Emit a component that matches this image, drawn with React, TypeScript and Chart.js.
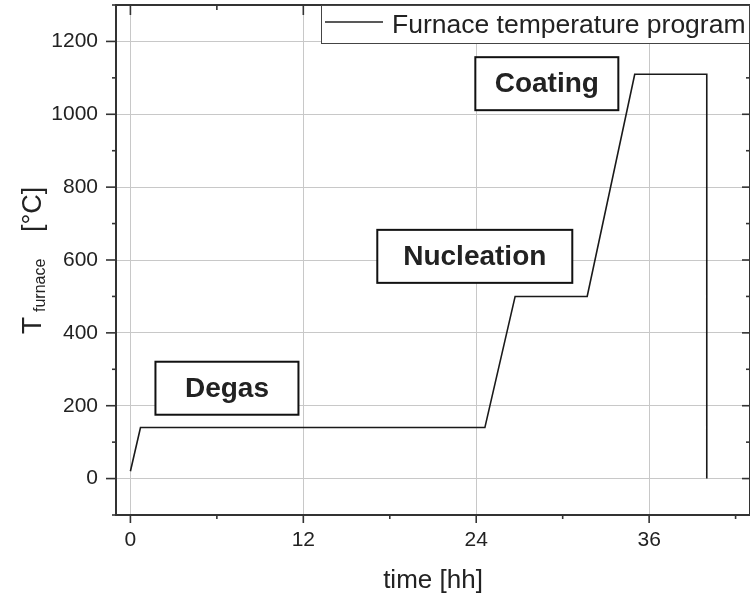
import React, { useEffect, useRef } from "react";
import { Chart, registerables } from "chart.js";

Chart.register(...registerables);

// ---- data ----
const timeHours = [0, 0.7, 24.6, 26.7, 31.7, 35.0, 40.0, 40.0];
const tempC = [20, 140, 140, 500, 500, 1110, 1110, 0];
const seriesLabel = "Furnace temperature program";

const xTickValues = [0, 6, 12, 18, 24, 30, 36, 42];
const xLabelValues = [0, 12, 24, 36];
const yTickValues = [-100, 0, 100, 200, 300, 400, 500, 600, 700, 800, 900, 1000, 1100, 1200, 1300];
const yLabelValues = [0, 200, 400, 600, 800, 1000, 1200];

const phaseLabels = ["Degas", "Nucleation", "Coating"];
const phaseTime = [6.7, 23.9, 28.9];
const phaseTemp = [248, 610, 1084];

const FONT = '"Liberation Sans", Arial, sans-serif';
const INK = "#222";

const decorPlugin = {
  id: "decor",
  afterDraw(chart: any) {
    const { ctx, chartArea: a, scales } = chart;
    const xs = scales.x;
    const ys = scales.y;
    ctx.save();
    const line = (x1: number, y1: number, x2: number, y2: number) => {
      ctx.beginPath();
      ctx.moveTo(x1, y1);
      ctx.lineTo(x2, y2);
      ctx.stroke();
    };
    // tick marks
    ctx.strokeStyle = "#333";
    ctx.lineWidth = 1.6;
    xs.ticks.forEach((t: any) => {
      const px = xs.getPixelForValue(t.value);
      const major = xLabelValues.includes(t.value);
      line(px, a.bottom, px, a.bottom + (major ? 8 : 4));
      line(px, a.top, px, a.top + (major ? 10 : 5));
    });
    ys.ticks.forEach((t: any) => {
      if (t.value < ys.min || t.value > ys.max) return;
      const py = ys.getPixelForValue(t.value);
      const major = yLabelValues.includes(t.value);
      line(a.left - (major ? 10 : 4), py, a.left, py);
      line(a.right - (major ? 8 : 4), py, a.right, py);
    });
    // frame
    ctx.lineWidth = 2;
    ctx.strokeStyle = "#333";
    ctx.strokeRect(a.left, a.top, a.right - a.left, a.bottom - a.top);

    // phase annotation boxes
    const boxW = [143, 195, 143];
    const boxH = 53;
    ctx.font = `bold 28px ${FONT}`;
    ctx.textAlign = "center";
    ctx.textBaseline = "middle";
    phaseLabels.forEach((lab, i) => {
      const cx = xs.getPixelForValue(phaseTime[i]);
      const cy = ys.getPixelForValue(phaseTemp[i]);
      ctx.fillStyle = "#fff";
      ctx.fillRect(cx - boxW[i] / 2, cy - boxH / 2, boxW[i], boxH);
      ctx.lineWidth = 2;
      ctx.strokeStyle = "#111";
      ctx.strokeRect(cx - boxW[i] / 2, cy - boxH / 2, boxW[i], boxH);
      ctx.fillStyle = INK;
      ctx.fillText(lab, cx, cy + 1);
    });

    // legend
    const lx = 321;
    const ly = a.top;
    const lw = a.right - lx;
    const lh = 39;
    ctx.fillStyle = "#fff";
    ctx.fillRect(lx, ly, lw, lh);
    ctx.lineWidth = 1;
    ctx.strokeStyle = "#444";
    ctx.strokeRect(lx + 0.5, ly + 0.5, lw - 1, lh - 1);
    ctx.strokeStyle = INK;
    ctx.lineWidth = 1.5;
    line(lx + 4, ly + 17, lx + 62, ly + 17);
    ctx.fillStyle = INK;
    ctx.font = `26.5px ${FONT}`;
    ctx.textAlign = "left";
    ctx.textBaseline = "alphabetic";
    ctx.fillText(chart.data.datasets[0].label, lx + 71, ly + 28);

    // x title
    ctx.font = `26px ${FONT}`;
    ctx.textAlign = "center";
    ctx.fillText("time [hh]", 433, 588);

    // y title (rotated)
    ctx.translate(41, 0);
    ctx.rotate(-Math.PI / 2);
    ctx.textAlign = "left";
    ctx.font = `28px ${FONT}`;
    ctx.fillText("T", -334, 0);
    ctx.font = `16px ${FONT}`;
    ctx.fillText("furnace", -312, 4);
    ctx.font = `27px ${FONT}`;
    ctx.fillText("[\u00B0C]", -232, 0);
    ctx.restore();
  },
};

export default function App() {
  const ref = useRef<HTMLCanvasElement>(null);
  useEffect(() => {
    if (!ref.current) return;
    const points = timeHours.map((t, i) => ({ x: t, y: tempC[i] }));
    const chart = new Chart(ref.current, {
      type: "line",
      data: {
        datasets: [
          {
            label: seriesLabel,
            data: points,
            borderColor: "#1a1a1a",
            borderWidth: 1.6,
            pointRadius: 0,
            fill: false,
            tension: 0,
          },
        ],
      },
      plugins: [decorPlugin],
      options: {
        responsive: false,
        animation: false,
        layout: { padding: { top: 5, right: 0, left: 0, bottom: 0 } },
        plugins: { legend: { display: false }, tooltip: { enabled: false } },
        scales: {
          x: {
            type: "linear",
            min: -1,
            max: 43,
            afterBuildTicks: (s: any) => {
              s.ticks = xTickValues.map((v) => ({ value: v }));
            },
            afterFit: (s: any) => {
              s.height = 80;
              s.paddingLeft = 0;
              s.paddingRight = 0;
            },
            border: { display: false },
            grid: {
              drawTicks: false,
              color: (c: any) => (xLabelValues.includes(c.tick?.value) ? "#c8c8c8" : "rgba(0,0,0,0)"),
              lineWidth: 1,
            },
            ticks: {
              autoSkip: false,
              maxRotation: 0,
              padding: 13,
              color: INK,
              font: { family: FONT, size: 21 },
              callback: (v: any) => (xLabelValues.includes(Number(v)) ? String(v) : ""),
            },
          },
          y: {
            type: "linear",
            min: -100,
            max: 1300,
            afterBuildTicks: (s: any) => {
              s.ticks = yTickValues.map((v) => ({ value: v }));
            },
            afterFit: (s: any) => {
              s.width = 116;
              s.paddingTop = 0;
              s.paddingBottom = 0;
            },
            border: { display: false },
            grid: {
              drawTicks: false,
              color: (c: any) => (yLabelValues.includes(c.tick?.value) ? "#c8c8c8" : "rgba(0,0,0,0)"),
              lineWidth: 1,
            },
            ticks: {
              autoSkip: false,
              padding: 18,
              color: INK,
              font: { family: FONT, size: 21 },
              callback: (v: any) => (yLabelValues.includes(Number(v)) ? String(v) : ""),
            },
          },
        },
      },
    });
    return () => chart.destroy();
  }, []);
  return (
    <div style={{ position: "absolute", left: 0, top: 0, width: 750, height: 595, background: "#fff" }}>
      <canvas ref={ref} width={750} height={595} style={{ width: 750, height: 595 }} />
    </div>
  );
}
